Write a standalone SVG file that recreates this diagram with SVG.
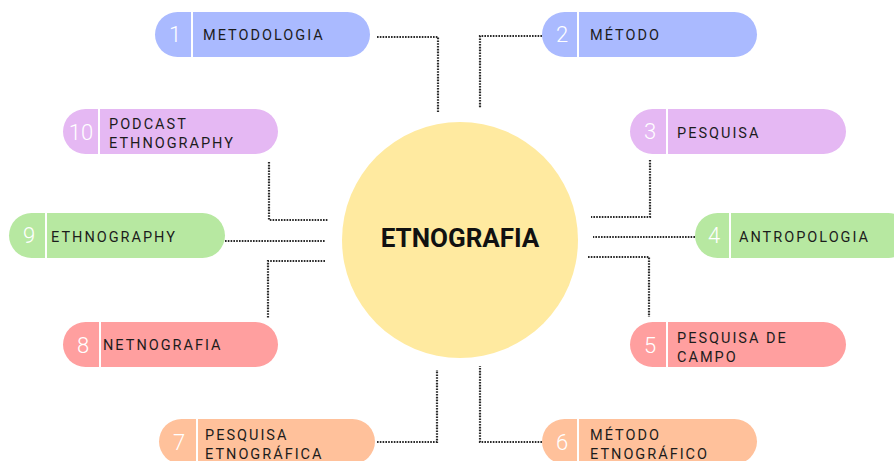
<svg xmlns="http://www.w3.org/2000/svg" width="894" height="461" viewBox="0 0 894 461">
<style>
.lbl{font-family:Roboto,"Liberation Sans",sans-serif;font-size:14.5px;letter-spacing:2px;fill:#1c1c1c}
.num{font-family:Roboto,"Liberation Sans",sans-serif;font-size:22px;font-weight:300;fill:#ffffff;text-anchor:middle}
.div{stroke:#ffffff;stroke-width:2}
.con{fill:none;stroke:#2a2a2a;stroke-width:2.2;stroke-dasharray:1.6 1.2}
.blue{fill:#aabaff}.purple{fill:#e5b8f3}.green{fill:#b7e8a1}.red{fill:#ff9f9f}.orange{fill:#ffc19b}
</style>
<rect width="894" height="461" fill="#ffffff"/>
<g id="connectors">
<path class="con" d="M377 37 H438 V112"/>
<path class="con" d="M542 36 H480 V108"/>
<path class="con" d="M269 162 V220 H328"/>
<path class="con" d="M225 241 H325"/>
<path class="con" d="M325 261 H268 V318"/>
<path class="con" d="M377 442 H437 V370"/>
<path class="con" d="M542 442 H480 V366"/>
<path class="con" d="M650 160 V217 H591"/>
<path class="con" d="M695 237 H593"/>
<path class="con" d="M588 257 H649 V317"/>
</g>
<g id="center">
<circle cx="460" cy="240" r="118" fill="#ffeaa0"/>
<text x="460" y="247" text-anchor="middle" font-family="Roboto,'Liberation Sans',sans-serif" font-weight="700" font-size="26" fill="#111111">ETNOGRAFIA</text>
</g>
<g id="n1">
<rect class="blue" x="155" y="12" width="215" height="45" rx="22.5"/>
<line class="div" x1="192" y1="12" x2="192" y2="57"/>
<text class="num" x="175" y="42">1</text>
<text class="lbl" x="203" y="40">METODOLOGIA</text>
</g>
<g id="n2">
<rect class="blue" x="542" y="12" width="215" height="45" rx="22.5"/>
<line class="div" x1="578" y1="12" x2="578" y2="57"/>
<text class="num" x="562" y="42">2</text>
<text class="lbl" x="590" y="40">MÉTODO</text>
</g>
<g id="n3">
<rect class="purple" x="630" y="109" width="216" height="45" rx="22.5"/>
<line class="div" x1="667" y1="109" x2="667" y2="154"/>
<text class="num" x="650" y="139">3</text>
<text class="lbl" x="677" y="138">PESQUISA</text>
</g>
<g id="n4">
<rect class="green" x="695" y="213" width="216" height="45" rx="22.5"/>
<line class="div" x1="730" y1="213" x2="730" y2="258"/>
<text class="num" x="714" y="243">4</text>
<text class="lbl" x="739" y="242">ANTROPOLOGIA</text>
</g>
<g id="n5">
<rect class="red" x="630" y="322" width="216" height="45" rx="22.5"/>
<line class="div" x1="667" y1="322" x2="667" y2="367"/>
<text class="num" x="650" y="353">5</text>
<text class="lbl" x="677" y="343">PESQUISA DE</text>
<text class="lbl" x="677" y="362">CAMPO</text>
</g>
<g id="n6">
<rect class="orange" x="542" y="419" width="215" height="45" rx="22.5"/>
<line class="div" x1="578" y1="419" x2="578" y2="464"/>
<text class="num" x="562" y="450">6</text>
<text class="lbl" x="590" y="440">MÉTODO</text>
<text class="lbl" x="590" y="459">ETNOGRÁFICO</text>
</g>
<g id="n7">
<rect class="orange" x="159" y="419" width="216" height="45" rx="22.5"/>
<line class="div" x1="197" y1="419" x2="197" y2="464"/>
<text class="num" x="179" y="450">7</text>
<text class="lbl" x="205" y="440">PESQUISA</text>
<text class="lbl" x="205" y="459">ETNOGRÁFICA</text>
</g>
<g id="n8">
<rect class="red" x="63" y="322" width="215" height="45" rx="22.5"/>
<line class="div" x1="100" y1="322" x2="100" y2="367"/>
<text class="num" x="83" y="353">8</text>
<text class="lbl" x="103" y="350">NETNOGRAFIA</text>
</g>
<g id="n9">
<rect class="green" x="9" y="213" width="216" height="45" rx="22.5"/>
<line class="div" x1="46" y1="213" x2="46" y2="258"/>
<text class="num" x="29" y="243">9</text>
<text class="lbl" x="51" y="242">ETHNOGRAPHY</text>
</g>
<g id="n10">
<rect class="purple" x="63" y="109" width="215" height="45" rx="22.5"/>
<line class="div" x1="99" y1="109" x2="99" y2="154"/>
<text class="num" x="81" y="140">10</text>
<text class="lbl" x="109" y="129">PODCAST</text>
<text class="lbl" x="109" y="148">ETHNOGRAPHY</text>
</g>
</svg>
